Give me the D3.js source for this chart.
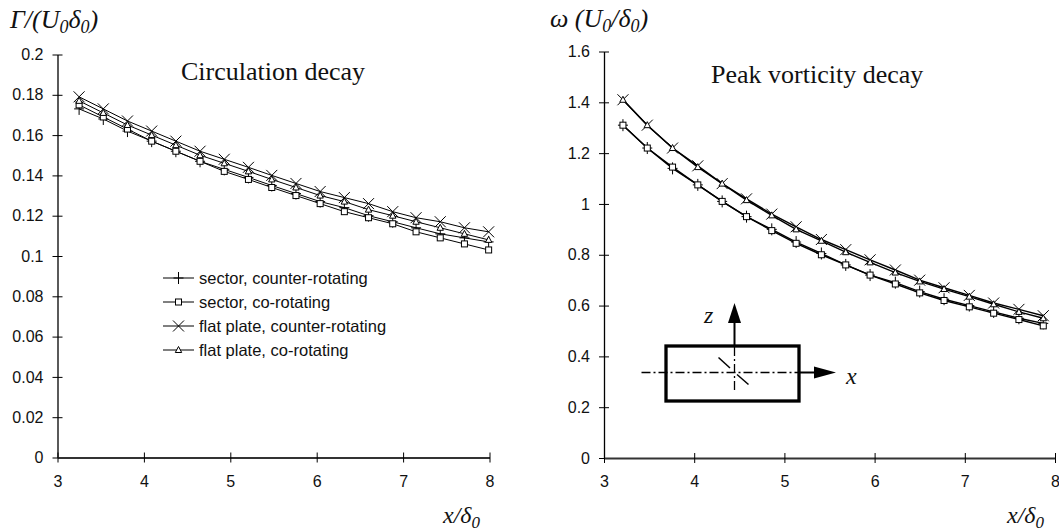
<!DOCTYPE html>
<html>
<head>
<meta charset="utf-8">
<script src="https://cdn.jsdelivr.net/npm/d3@7"></script>
<style>
  html, body { margin: 0; padding: 0; background: #fff; }
  svg { display: block; }
  .tick text { font-family: "Liberation Sans", Arial, sans-serif; font-size: 16px; fill: #111; }
</style>
</head>
<body>
<svg id="chart" width="1059" height="532"></svg>
<script>
// Streamwise stations x/δ0
const xCirc = [3.25, 3.53, 3.81, 4.09, 4.37, 4.65, 4.93, 5.21, 5.48, 5.76, 6.04, 6.32, 6.60, 6.88, 7.15, 7.43, 7.71, 7.99];
const xVort = [3.21, 3.48, 3.76, 4.04, 4.31, 4.58, 4.86, 5.13, 5.41, 5.68, 5.95, 6.23, 6.50, 6.77, 7.05, 7.32, 7.60, 7.87];

// Circulation Γ/(U0 δ0)
const circSectorCounter = [0.173, 0.168, 0.162, 0.157, 0.152, 0.147, 0.143, 0.139, 0.135, 0.131, 0.127, 0.124, 0.120, 0.117, 0.114, 0.111, 0.109, 0.107];
const circSectorCo      = [0.175, 0.169, 0.163, 0.157, 0.152, 0.147, 0.142, 0.138, 0.134, 0.130, 0.126, 0.122, 0.119, 0.116, 0.112, 0.109, 0.106, 0.103];
const circPlateCounter  = [0.179, 0.173, 0.167, 0.162, 0.157, 0.152, 0.148, 0.144, 0.140, 0.136, 0.132, 0.129, 0.126, 0.122, 0.119, 0.117, 0.114, 0.112];
const circPlateCo       = [0.177, 0.171, 0.165, 0.160, 0.155, 0.150, 0.146, 0.142, 0.138, 0.134, 0.130, 0.127, 0.123, 0.120, 0.117, 0.114, 0.111, 0.108];

// Peak vorticity ω/(U0/δ0)
const vortSectorCounter = [1.31, 1.22, 1.14, 1.075, 1.01, 0.95, 0.90, 0.85, 0.805, 0.76, 0.72, 0.69, 0.655, 0.625, 0.60, 0.575, 0.55, 0.53];
const vortSectorCo      = [1.31, 1.22, 1.145, 1.075, 1.01, 0.95, 0.895, 0.845, 0.80, 0.76, 0.72, 0.685, 0.65, 0.62, 0.595, 0.57, 0.545, 0.52];
const vortPlateCounter  = [1.41, 1.31, 1.22, 1.15, 1.08, 1.02, 0.96, 0.91, 0.86, 0.82, 0.78, 0.74, 0.70, 0.67, 0.64, 0.61, 0.585, 0.56];
const vortPlateCo       = [1.41, 1.31, 1.22, 1.145, 1.08, 1.015, 0.955, 0.90, 0.855, 0.81, 0.77, 0.73, 0.695, 0.665, 0.635, 0.605, 0.575, 0.55];

const seriesNames = ["sector, counter-rotating", "sector, co-rotating", "flat plate, counter-rotating", "flat plate, co-rotating"];
const seriesMarkers = ["plus", "square", "cross", "triangle"];

const xTicks = [3, 4, 5, 6, 7, 8];
const circTicks = [0, 0.02, 0.04, 0.06, 0.08, 0.1, 0.12, 0.14, 0.16, 0.18, 0.2];
const vortTicks = [0, 0.2, 0.4, 0.6, 0.8, 1, 1.2, 1.4, 1.6];

const svg = d3.select("#chart");
const SERIF = "'Liberation Serif', 'Times New Roman', serif";
const SANS = "'Liberation Sans', Arial, sans-serif";

function drawMarker(g, type, cx, cy) {
  const s = g.append("g").attr("transform", `translate(${cx},${cy})`)
    .attr("fill", "none").attr("stroke", "#000").attr("stroke-width", 1);
  if (type === "plus") {
    s.append("line").attr("x1", -5).attr("x2", 5).attr("y1", 0).attr("y2", 0);
    s.append("line").attr("x1", 0).attr("x2", 0).attr("y1", -6).attr("y2", 6);
  } else if (type === "square") {
    s.append("rect").attr("x", -3).attr("y", -3).attr("width", 6).attr("height", 6).attr("fill", "#fff");
  } else if (type === "cross") {
    s.append("line").attr("x1", -5.5).attr("x2", 5.5).attr("y1", -5.5).attr("y2", 5.5);
    s.append("line").attr("x1", -5.5).attr("x2", 5.5).attr("y1", 5.5).attr("y2", -5.5);
  } else if (type === "triangle") {
    s.append("path").attr("d", "M0,-3.5L3.2,2.5L-3.2,2.5Z").attr("fill", "#fff");
  }
}

function panel(opts) {
  const x = d3.scaleLinear().domain([3, 8]).range(opts.xRange);
  const y = d3.scaleLinear().domain(opts.yDomain).range(opts.yRange);
  const g = svg.append("g");

  // axes in the crossing-tick style
  const yAxis = g.append("g").attr("transform", `translate(${opts.xRange[0]},0)`)
    .call(d3.axisLeft(y).tickValues(opts.yTicks).tickSize(5).tickSizeOuter(0).tickPadding(9)
      .tickFormat(opts.yFormat));
  yAxis.selectAll(".tick line").attr("x1", -5).attr("x2", 5).attr("stroke", "#000");
  yAxis.select(".domain").attr("stroke", "#000").attr("stroke-width", 1.3);

  const xAxis = g.append("g").attr("transform", `translate(0,${opts.yRange[0]})`)
    .call(d3.axisBottom(x).tickValues(xTicks).tickSize(5).tickSizeOuter(0).tickPadding(13)
      .tickFormat(d3.format("d")));
  xAxis.selectAll(".tick line").attr("y1", -5).attr("y2", 5).attr("stroke", "#000");
  xAxis.select(".domain").attr("stroke", "#333").attr("stroke-width", 2);

  const line = d3.line().x((d, i) => x(opts.xs[i])).y(d => y(d));
  opts.series.forEach((vals, k) => {
    g.append("path").datum(vals).attr("d", line)
      .attr("fill", "none").attr("stroke", "#000").attr("stroke-width", opts.lineWidth);
  });
  opts.series.forEach((vals, k) => {
    vals.forEach((v, i) => drawMarker(g, seriesMarkers[k], x(opts.xs[i]), y(v)));
  });

  // panel title
  g.append("text").attr("x", opts.titleX).attr("y", opts.titleY)
    .attr("font-family", SERIF).attr("font-size", 26).attr("fill", "#111").text(opts.title);

  // x axis title x/δ0
  const xt = g.append("text").attr("x", opts.xTitleX).attr("y", 523)
    .attr("font-family", SERIF).attr("font-style", "italic").attr("font-size", 24).attr("fill", "#111");
  xt.append("tspan").text("x/δ");
  xt.append("tspan").attr("font-size", 17).attr("dy", 5).text("0");
  return { g, x, y };
}

panel({
  xRange: [57.5, 489.5], yDomain: [0, 0.2], yRange: [457.5, 54.5], yTicks: circTicks,
  yFormat: d => d === 0 ? "0" : d3.format("~g")(+d.toFixed(2)),
  xs: xCirc, series: [circSectorCounter, circSectorCo, circPlateCounter, circPlateCo],
  lineWidth: 1, title: "Circulation decay", titleX: 181, titleY: 80, xTitleX: 443
});

panel({
  xRange: [604, 1055], yDomain: [0, 1.6], yRange: [458, 51.5], yTicks: vortTicks,
  yFormat: d => d3.format("~g")(+d.toFixed(1)),
  xs: xVort, series: [vortSectorCounter, vortSectorCo, vortPlateCounter, vortPlateCo],
  lineWidth: 1.4, title: "Peak vorticity decay", titleX: 711, titleY: 83, xTitleX: 1007
});

// y axis titles
const t1 = svg.append("text").attr("x", 10).attr("y", 28)
  .attr("font-family", SERIF).attr("font-style", "italic").attr("font-size", 26).attr("fill", "#111");
t1.append("tspan").text("Γ/(U");
t1.append("tspan").attr("font-size", 18).attr("dy", 5).text("0");
t1.append("tspan").attr("dy", -5).text("δ");
t1.append("tspan").attr("font-size", 18).attr("dy", 5).text("0");
t1.append("tspan").attr("dy", -5).text(")");

const t2 = svg.append("text").attr("x", 550).attr("y", 27)
  .attr("font-family", SERIF).attr("font-style", "italic").attr("font-size", 26).attr("fill", "#111");
t2.append("tspan").text("ω (U");
t2.append("tspan").attr("font-size", 18).attr("dy", 5).text("0");
t2.append("tspan").attr("dy", -5).text("/δ");
t2.append("tspan").attr("font-size", 18).attr("dy", 5).text("0");
t2.append("tspan").attr("dy", -5).text(")");

// legend
const legend = svg.append("g");
seriesNames.forEach((name, k) => {
  const cy = 278 + k * 24;
  legend.append("line").attr("x1", 163).attr("x2", 194).attr("y1", cy).attr("y2", cy)
    .attr("stroke", "#000").attr("stroke-width", 1);
  drawMarker(legend, seriesMarkers[k], 178.5, cy);
  legend.append("text").attr("x", 199).attr("y", cy + 6)
    .attr("font-family", SANS).attr("font-size", 16.5).attr("fill", "#111").text(name);
});

// coordinate-system sketch: plate outline with x and z axes
const sk = svg.append("g").attr("stroke", "#000").attr("fill", "none");
const cx = 734.5, cy = 372.5;
sk.append("rect").attr("x", 666).attr("y", 346).attr("width", 133).attr("height", 55).attr("stroke-width", 3.3);
sk.append("line").attr("x1", 641.5).attr("x2", 799).attr("y1", cy).attr("y2", cy)
  .attr("stroke-width", 1.3).attr("stroke-dasharray", "9,3,2,3");
sk.append("line").attr("x1", 799).attr("x2", 814).attr("y1", cy).attr("y2", cy).attr("stroke-width", 2);
sk.append("path").attr("d", `M814,${cy - 6}L836,${cy}L814,${cy + 6}Z`).attr("fill", "#000").attr("stroke", "none");
sk.append("line").attr("x1", cx).attr("x2", cx).attr("y1", 390).attr("y2", 346)
  .attr("stroke-width", 1.3).attr("stroke-dasharray", "9,3,2,3");
sk.append("line").attr("x1", cx).attr("x2", cx).attr("y1", 346).attr("y2", 323).attr("stroke-width", 2);
sk.append("path").attr("d", `M${cx - 6.5},323L${cx},303L${cx + 6.5},323Z`).attr("fill", "#000").attr("stroke", "none");
sk.append("line").attr("x1", 718.5).attr("y1", 357.5).attr("x2", 730).attr("y2", 368).attr("stroke-width", 1.5);
sk.append("line").attr("x1", 737).attr("y1", 374.5).attr("x2", 748.5).attr("y2", 384.5).attr("stroke-width", 1.5);
svg.append("text").attr("x", 704).attr("y", 323).attr("font-family", SERIF).attr("font-style", "italic")
  .attr("font-size", 24).attr("fill", "#111").text("z");
svg.append("text").attr("x", 846).attr("y", 384).attr("font-family", SERIF).attr("font-style", "italic")
  .attr("font-size", 24).attr("fill", "#111").text("x");
</script>
</body>
</html>
